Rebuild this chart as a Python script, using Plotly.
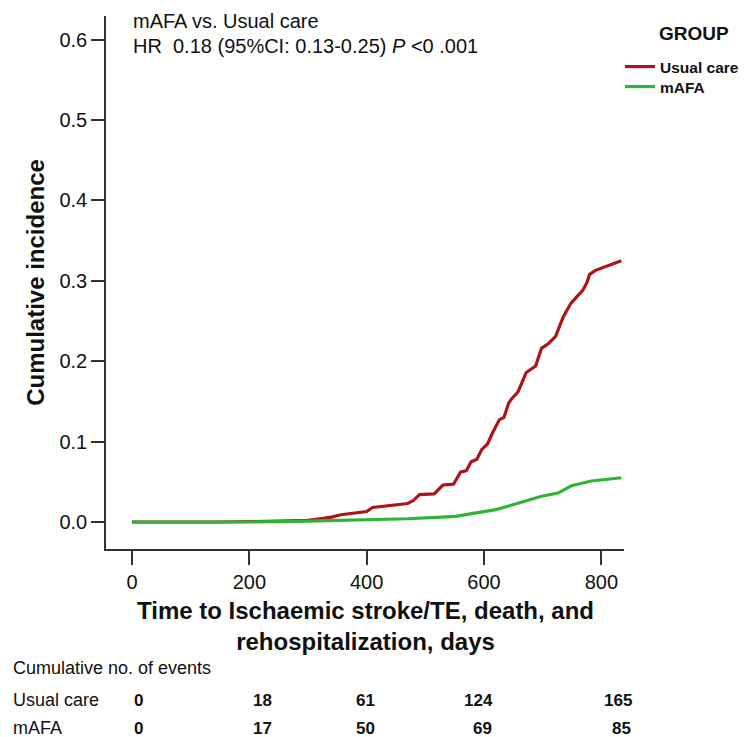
import plotly.graph_objects as go

# ---- data ----
usual_days = [0, 150, 250, 300, 320, 340, 356, 380, 400, 410, 440, 470, 480, 490, 515, 530, 548, 560, 570,
              578, 588, 596, 606, 614, 626, 634, 642, 648, 658, 666, 672, 688, 698, 710, 722, 735, 748, 758,
              768, 775, 780, 790, 834]
usual_inc = [0.0, 0.0, 0.001, 0.002, 0.004, 0.006, 0.009, 0.011, 0.013, 0.018, 0.020, 0.023, 0.027, 0.034,
             0.035, 0.046, 0.047, 0.062, 0.064, 0.075, 0.078, 0.090, 0.097, 0.110, 0.127, 0.130, 0.148, 0.154,
             0.162, 0.176, 0.186, 0.194, 0.216, 0.222, 0.231, 0.255, 0.272, 0.280, 0.288, 0.297, 0.308, 0.313,
             0.325]
mafa_days = [0, 200, 300, 414, 470, 527, 552, 584, 618, 652, 698, 726, 749, 783, 834]
mafa_inc = [0.0, 0.0, 0.001, 0.003, 0.004, 0.006, 0.007, 0.011, 0.015, 0.022, 0.032, 0.036, 0.045, 0.051, 0.055]

x_ticks = [0, 200, 400, 600, 800]
y_ticks = [0.0, 0.1, 0.2, 0.3, 0.4, 0.5, 0.6]

table_groups = ["Usual care", "mAFA"]
usual_events = ["0", "18", "61", "124", "165"]
mafa_events = ["0", "17", "50", "69", "85"]

# ---- layout geometry (pixels) ----
W, H = 750, 737
L, R, T, B = 98, 134, 8, 196
PW = W - L - R
PH = H - T - B


def px(x):
    return (x - L) / PW


def py(y):
    return (H - B - y) / PH


ARIAL = "Liberation Sans, Arial, sans-serif"
INK = "#111"

fig = go.Figure()
fig.add_trace(go.Scatter(x=usual_days, y=usual_inc, mode="lines", name="<b>Usual care</b>",
                         line=dict(color="#AE1519", width=3.2), legend="legend"))
fig.add_trace(go.Scatter(x=mafa_days, y=mafa_inc, mode="lines", name="<b>mAFA</b>",
                         line=dict(color="#2EB535", width=3.2), legend="legend2"))

leg_common = dict(xanchor="left", yanchor="middle", itemwidth=30, tracegroupgap=0,
                  bgcolor="rgba(0,0,0,0)", font=dict(family=ARIAL, size=15.5, color=INK))

fig.update_layout(
    width=W, height=H,
    margin=dict(l=L, r=R, t=T, b=B),
    plot_bgcolor="white", paper_bgcolor="white",
    font=dict(family=ARIAL, color=INK),
    showlegend=True,
    legend=dict(x=px(612), y=py(59), **leg_common),
    legend2=dict(x=px(612), y=py(79), **leg_common),
    xaxis=dict(
        range=[-44.3, 838.6], tickvals=x_ticks, ticktext=[str(v) for v in x_ticks],
        showline=True, linecolor="#333", linewidth=1.5, mirror=False,
        ticks="outside", ticklen=14, tickwidth=1.5, tickcolor="#333",
        showgrid=False, zeroline=False,
        tickfont=dict(family=ARIAL, size=20, color=INK),
    ),
    yaxis=dict(
        range=[-0.0336, 0.6294], tickvals=y_ticks, ticktext=["%.1f" % v for v in y_ticks],
        showline=True, linecolor="#333", linewidth=1.5, mirror=False,
        ticks="outside", ticklen=13, tickwidth=1.5, tickcolor="#333",
        showgrid=False, zeroline=False,
        tickfont=dict(family=ARIAL, size=20, color=INK),
        title=dict(text="<b>Cumulative incidence</b>", font=dict(family=ARIAL, size=24, color=INK),
                   standoff=8),
    ),
)

ann = []
# x-axis title
ann.append(dict(x=px(357), y=py(618),
                text="<b>Time to Ischaemic stroke/TE, death, and<br>rehospitalization, days</b>",
                xanchor="center", yanchor="middle", align="center",
                font=dict(family=ARIAL, size=24, color=INK)))
# legend heading
ann.append(dict(x=px(686), y=py(25), text="<b>GROUP</b>", xanchor="center", yanchor="middle",
                font=dict(family=ARIAL, size=19, color=INK)))
# HR annotation
ann.append(dict(x=px(123), y=py(13), text="mAFA vs. Usual care", xanchor="left", yanchor="middle",
                font=dict(family=ARIAL, size=20, color=INK)))
ann.append(dict(x=px(123), y=py(38), text="HR  0.18 (95%CI: 0.13-0.25) <i>P</i> <0 .001",
                xanchor="left", yanchor="middle", font=dict(family=ARIAL, size=20, color=INK)))
# cumulative events table
ann.append(dict(x=px(3), y=py(660), text="Cumulative no. of events", xanchor="left", yanchor="middle",
                font=dict(family=ARIAL, size=18, color=INK)))
row_y = [692, 720]
col_x = [[130, 254, 357, 470, 610], [130, 254, 357, 474, 613]]
for gi, (grp, vals) in enumerate(zip(table_groups, [usual_events, mafa_events])):
    ann.append(dict(x=px(3), y=py(row_y[gi]), text=grp, xanchor="left", yanchor="middle",
                    font=dict(family=ARIAL, size=18, color=INK)))
    for v, xx in zip(vals, col_x[gi]):
        ann.append(dict(x=px(xx), y=py(row_y[gi]), text="<b>%s</b>" % v, xanchor="center", yanchor="middle",
                        font=dict(family=ARIAL, size=17, color=INK)))
for a in ann:
    a.update(xref="paper", yref="paper", showarrow=False)
fig.update_layout(annotations=ann)

fig.write_html("out.html")
